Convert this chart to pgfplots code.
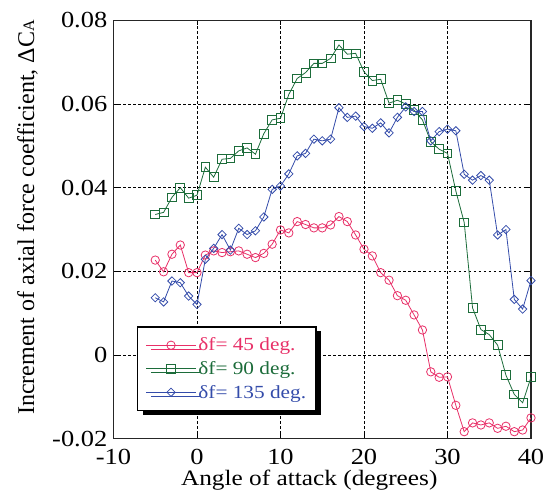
\documentclass[border=0pt]{standalone}
\usepackage{fontspec}
\setmainfont{Liberation Serif}[FakeStretch=1.15]
\newfontfamily\plainserif{Liberation Serif}
\usepackage{pgfplots}
\pgfplotsset{compat=1.18}
\usepackage{pgfplotstable}
\usetikzlibrary{shadows}

\definecolor{flapRed}{RGB}{232,48,104}
\definecolor{flapGreen}{RGB}{28,108,58}
\definecolor{flapBlue}{RGB}{52,76,170}

% Increment of axial force coefficient vs. angle of attack for three flap deflections
\pgfplotstableread{
aoa  d45      d90      d135
-5   0.0227   0.0336   0.0137
-4   0.0199   0.0341   0.0127
-3   0.0241   0.0377   0.0177
-2   0.0263   0.0400   0.0173
-1   0.0197   0.0375   0.0141
0    0.0197   0.0382   0.0121
1    0.0239   0.0449   0.0229
2    0.0249   0.0425   0.0255
3    0.0245   0.0468   0.0288
4    0.0247   0.0470   0.0251
5    0.0249   0.0488   0.0303
6    0.0241   0.0495   0.0288
7    0.0233   0.0480   0.0297
8    0.0243   0.0529   0.0330
9    0.0265   0.0562   0.0396
10   0.0299   0.0566   0.0404
11   0.0292   0.0623   0.0433
12   0.0319   0.0661   0.0476
13   0.0312   0.0675   0.0482
14   0.0304   0.0697   0.0516
15   0.0304   0.0697   0.0512
16   0.0311   0.0709   0.0516
17   0.0331   0.0741   0.0591
18   0.0319   0.0719   0.0568
19   0.0287   0.0721   0.0571
20   0.0253   0.0677   0.0546
21   0.0237   0.0656   0.0542
22   0.0197   0.0659   0.0555
23   0.0179   0.0602   0.0531
24   0.0142   0.0609   0.0568
25   0.0131   0.0600   0.0593
26   0.0096   0.0585   0.0582
27   0.0060   0.0562   0.0582
28   -0.0040  0.0510   0.0512
29   -0.0053  0.0492   0.0534
30   -0.0052  0.0482   0.0540
31   -0.0120  0.0392   0.0536
32   -0.0183  0.0317   0.0432
33   -0.0162  0.0113   0.0418
34   -0.0167  0.0061   0.0429
35   -0.0162  0.0049   0.0418
36   -0.0175  0.0024   0.0287
37   -0.0170  -0.0048  0.0300
38   -0.0183  -0.0094  0.0133
39   -0.0179  -0.0114  0.0110
40   -0.0150  -0.0053  0.0178
}\deltaCA

\begin{document}
\begin{tikzpicture}
\begin{axis}[
  at={(0pt,0pt)}, anchor=south west,
  width=417.5pt, height=418.5pt, scale only axis,
  xmin=-10, xmax=40, ymin=-0.02, ymax=0.08,
  scaled x ticks=false, scaled y ticks=false,
  xtick={-10,0,10,20,30,40},
  xticklabels={-10,0,10,20,30,40},
  ytick={-0.02,0,0.02,0.04,0.06,0.08},
  yticklabels={-0.02,0,0.02,0.04,0.06,0.08},
  tick label style={font=\fontsize{23}{25}\selectfont, inner sep=0pt},
  x tick label style={anchor=north, yshift=-10pt},
  y tick label style={anchor=east, xshift=-6pt},
  grid=major,
  grid style={black, line width=0.6pt, dash pattern=on 2.5pt off 2.5pt},
  axis line style={black!85, line width=1.3pt},
  tick style={black, line width=0.8pt},
  major tick length=5pt, tick align=inside,
  xlabel={Angle of attack (degrees)},
  xlabel style={font=\fontsize{22}{24}\selectfont, at={(axis description cs:0.5,0)},
    anchor=north, inner sep=0pt, yshift=-31pt, xshift=-13pt},
  ylabel={\plainserif Increment of axial force coefficient, ΔC{\fontsize{16}{16}\selectfont A}},
  % the label is rotated, so its shifts act along the rotated frame
  ylabel style={font=\fontsize{24}{26}\selectfont, at={(axis description cs:0,0.5)},
    anchor=center, inner sep=0pt, xshift=12pt, yshift=86pt},
  legend cell align=left,
  % legend sample: a line with one marker in its middle
  legend image code/.code={
    \draw[#1, line width=0.8pt, mark=none] (0pt,0pt) -- (50pt,0pt);
    \draw[#1, line width=0.8pt] plot[only marks] coordinates {(25pt,0pt)};
  },
  legend style={at={(axis cs:-7.2,0.0069)}, anchor=north west,
    draw=black, line width=1.5pt, fill=white,
    font=\fontsize{18.5}{20}\selectfont,
    inner xsep=8pt, inner ysep=9pt, row sep=5pt,
    drop shadow={shadow xshift=5pt, shadow yshift=-4pt, opacity=1, fill=black}},
]
\addplot[color=flapRed, line width=0.8pt, mark=o, mark size=4.2pt,
  mark options={solid, line width=0.8pt, fill=none}]
  table[x=aoa, y=d45] {\deltaCA};
\addlegendentry{\textcolor{flapRed}{δf= 45 deg.}}
\addplot[color=flapGreen, line width=0.8pt, mark=square, mark size=4.4pt,
  mark options={solid, line width=0.8pt, fill=none}]
  table[x=aoa, y=d90] {\deltaCA};
\addlegendentry{\textcolor{flapGreen}{δf= 90 deg.}}
\addplot[color=flapBlue, line width=0.8pt, mark=square, mark size=2.95pt,
  mark options={solid, line width=0.8pt, fill=none, rotate=45}]
  table[x=aoa, y=d135] {\deltaCA};
\addlegendentry{\textcolor{flapBlue}{δf= 135 deg.}}
\end{axis}
\pgfresetboundingbox
\useasboundingbox (-113.5pt,-58.2pt) rectangle (433.5pt,438.8pt);
\end{tikzpicture}
\end{document}
